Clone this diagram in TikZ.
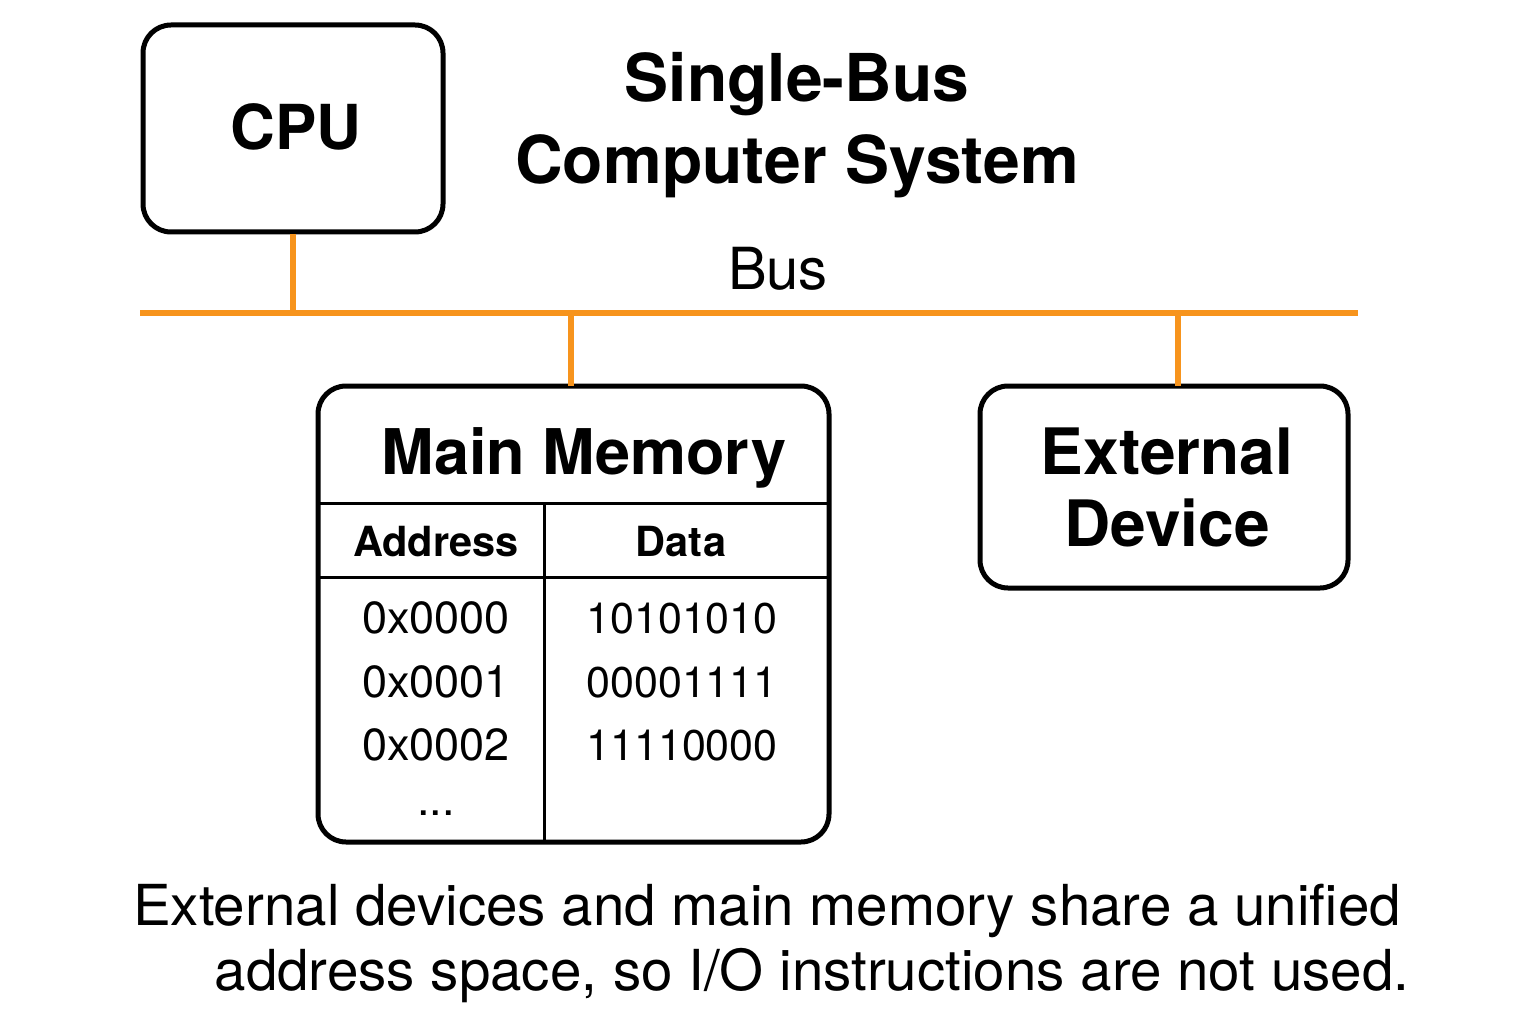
\documentclass[tikz,border=0pt]{standalone}
\usepackage{fontspec}
\setmainfont{TeX Gyre Heros}
\begin{document}
\begin{tikzpicture}[x=1pt,y=-1pt,
  box/.style={draw=black,line width=5pt,rounded corners=28pt,inner sep=0pt},
  busline/.style={draw=busorange,line width=6pt},
  txt/.style={inner sep=0pt,anchor=base},
  sep/.style={draw=black,line width=3pt}]
\definecolor{busorange}{HTML}{F7941D}
\useasboundingbox (0,0) rectangle (1536,1024);
% boxes
\node[box,minimum width=300pt,minimum height=207pt] (cpu) at (293,128.5) {};
\node[box,minimum width=511pt,minimum height=456pt] (mem) at (573.5,614) {};
\node[box,minimum width=368pt,minimum height=202pt] (ext) at (1164,487) {};
% bus
\coordinate (busL) at (140,313);
\coordinate (busR) at (1358,313);
\draw[busline] (busL) -- (busR);
\coordinate (memtap) at (571,386);
\coordinate (exttap) at (1178,386);
\draw[busline] (cpu.south) -- (cpu.south |- busL);
\draw[busline] (memtap) -- (memtap |- busL);
\draw[busline] (exttap) -- (exttap |- busL);
% memory table lines
\coordinate (h1L) at (318,503); \coordinate (h1R) at (829,503);
\coordinate (h2L) at (318,577); \coordinate (h2R) at (829,577);
\coordinate (vT) at (544,503); \coordinate (vB) at (544,842);
\draw[sep] (h1L) -- (h1R);
\draw[sep] (h2L) -- (h2R);
\draw[sep] (vT) -- (vB);
% texts
\node[txt] (cputxt) at (296,150) {\fontsize{62}{74}\selectfont\bfseries CPU};
\node[txt] (t1) at (797,102) {\fontsize{66}{78}\selectfont\bfseries Single-Bus};
\node[txt] (t2) at (797,184) {\fontsize{66}{78}\selectfont\bfseries Computer System};
\node[txt] (bus) at (778,290) {\fontsize{58}{68}\selectfont Bus};
\node[txt] (memtxt) at (584,474) {\fontsize{63}{76}\selectfont\bfseries Main Memory};
\node[txt] (addr) at (436,556) {\fontsize{41.5}{50}\selectfont\bfseries Address};
\node[txt] (data) at (681,556) {\fontsize{41.5}{50}\selectfont\bfseries Data};
\node[txt] (a0) at (436,633) {\fontsize{45}{54}\selectfont 0x0000};
\node[txt] (a1) at (436,697) {\fontsize{45}{54}\selectfont 0x0001};
\node[txt] (a2) at (436,760) {\fontsize{45}{54}\selectfont 0x0002};
\node[txt] (a3) at (436,815) {\fontsize{45}{54}\selectfont ...};
\node[txt] (d0) at (682,633) {\fontsize{43}{52}\selectfont 10101010};
\node[txt] (d1) at (682,697) {\fontsize{43}{52}\selectfont 00001111};
\node[txt] (d2) at (682,760) {\fontsize{43}{52}\selectfont 11110000};
\node[txt] (e1) at (1167,474) {\fontsize{64}{76}\selectfont\bfseries External};
\node[txt] (e2) at (1167,546) {\fontsize{64}{76}\selectfont\bfseries Device};
\node[txt] (c1) at (767,925) {\fontsize{56.5}{66}\selectfont External devices and main memory share a unified};
\node[txt] (c2) at (812,990) {\fontsize{56.5}{66}\selectfont address space, so I/O instructions are not used.};
\end{tikzpicture}
\end{document}
